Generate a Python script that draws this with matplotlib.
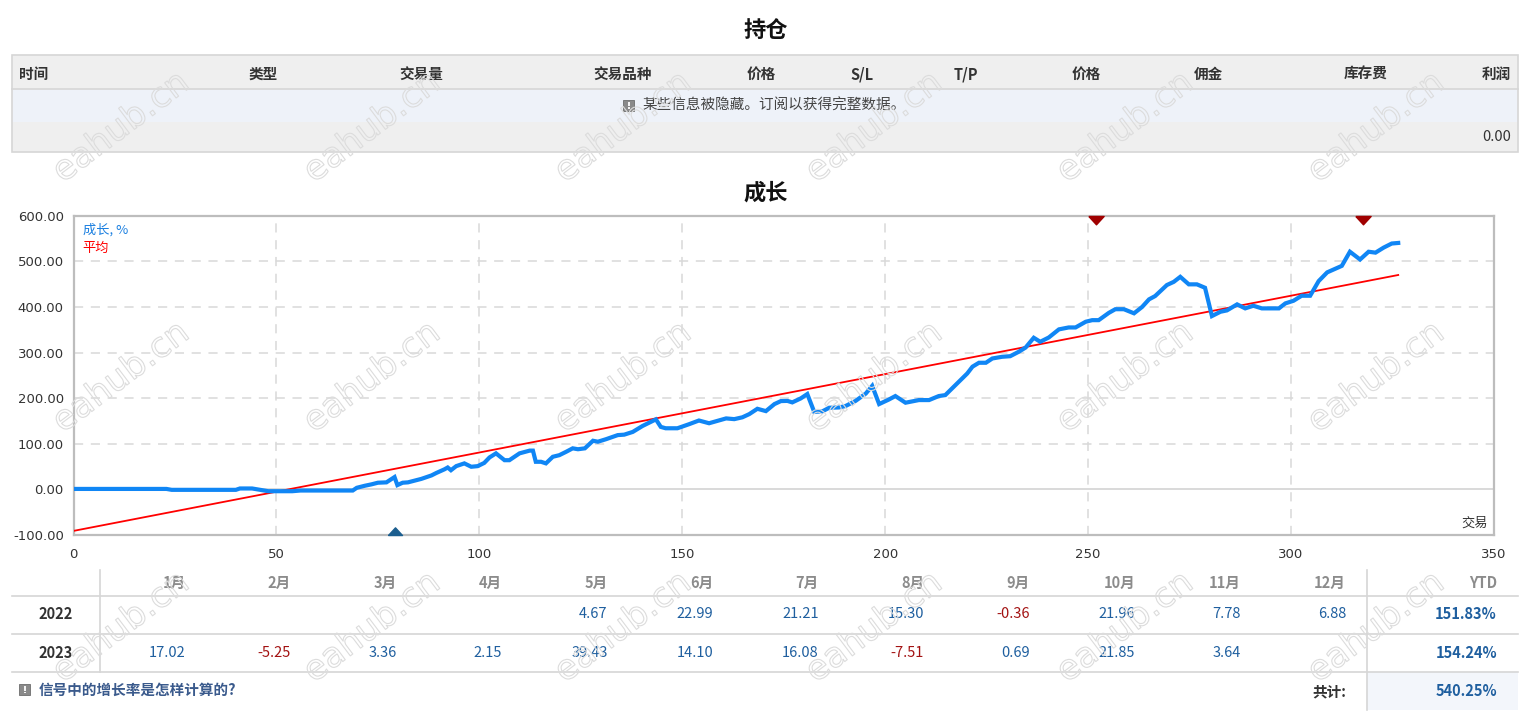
import matplotlib
matplotlib.use('Agg')
import matplotlib.pyplot as plt
from matplotlib.patches import Rectangle
import matplotlib.patheffects as pe

plt.rcParams['font.family'] = ['Noto Sans CJK SC', 'DejaVu Sans']

# ---------------- data ----------------
title_positions = "持仓"
title_growth = "成长"

pos_headers = ["时间", "类型", "交易量", "交易品种", "价格", "S/L", "T/P", "价格", "佣金", "库存费", "利润"]
hidden_msg = "某些信息被隐藏。订阅以获得完整数据。"
profit_total = "0.00"

trade_x = [0, 22.9, 24.2, 40.0, 41.0, 44.0, 46.0, 48.0, 53.9, 55.9, 68.8, 69.8, 71.8, 73.4, 75.0,
           77.1, 79.1, 79.8, 81.1, 82.4, 85.7, 88.2, 89.4, 91.4, 92.2, 93.0, 94.3, 96.3, 98.0,
           99.6, 101.2, 102.5, 104.1, 106.2, 107.4, 109.9, 112.4, 113.2, 113.9, 115.2, 116.4,
           118.1, 119.7, 121.4, 123.0, 124.3, 126.0, 128.0, 129.2, 131.2, 134.1, 135.7, 137.8,
           140.2, 141.8, 143.5, 144.7, 145.9, 148.8, 151.7, 154.1, 156.6, 160.8, 162.8, 164.8,
           166.5, 168.5, 170.6, 172.7, 174.3, 175.9, 177.1, 179.2, 180.8, 182.5, 184.5, 186.2,
           188.6, 190.2, 192.7, 195.2, 196.8, 198.5, 200.9, 202.5, 205.0, 208.3, 210.8, 213.2,
           214.8, 217.3, 220.2, 221.5, 223.1, 224.8, 226.4, 228.8, 230.8, 232.9, 234.6, 236.6,
           238.2, 240.3, 242.8, 245.2, 246.9, 249.4, 251.0, 252.6, 255.1, 256.7, 258.8, 261.3,
           263.3, 265.0, 266.5, 269.4, 271.1, 272.7, 274.8, 276.8, 278.8, 280.5, 282.6, 284.2,
           286.7, 288.7, 290.7, 292.8, 297.0, 298.6, 300.6, 302.6, 304.7, 306.8, 308.9, 312.5,
           314.5, 317.0, 319.1, 320.8, 322.8, 324.8, 326.4]
growth = [1, 1, -1, -1, 2, 2, -1, -4, -4, -2.5, -2.5, 3.5, 8, 11, 14.6,
          15.4, 27, 9.4, 14.6, 15.4, 23, 30.6, 36, 44, 48, 42, 51, 57, 49.6,
          51, 58, 70, 79, 64, 64, 79, 85, 85, 60.5, 60.5, 57,
          71.5, 75, 82.5, 90, 88, 90, 106.6, 104.5, 110, 119, 120, 126,
          139, 146, 153.5, 137, 134, 134, 143, 151, 145, 155.6, 154, 158,
          165, 176.7, 171.6, 187, 193.6, 194, 190.7, 199.5, 209, 170, 171, 179,
          179.6, 182.6, 194, 210, 227, 187, 197, 204.6, 190, 195.8, 195.8, 204.6,
          206.7, 228.7, 254, 269, 277.6, 277.6, 287, 290.7, 292, 301.7, 311, 332.4,
          323.6, 333, 350.8, 355, 355, 367.5, 371, 371, 387, 395, 395, 386,
          400, 416.6, 423.8, 448, 455, 466, 449.5, 449.5, 442, 380, 389.4, 392.4,
          405.6, 396.8, 402.6, 396.8, 396.8, 407.8, 413.5, 424.5, 424.5, 456.7, 475.8, 490,
          521, 504, 521, 519, 530, 539, 540.25]

avg_x = [0, 326.4]
avg_y = [-91, 470]

deposit_marks_x = [79.1]
drawdown_marks_x = [251.9, 317.7]

months = ["1月", "2月", "3月", "4月", "5月", "6月", "7月", "8月", "9月", "10月", "11月", "12月"]
years = ["2022", "2023"]
monthly = [
    [None, None, None, None, 4.67, 22.99, 21.21, 15.30, -0.36, 21.96, 7.78, 6.88],
    [17.02, -5.25, 3.36, 2.15, 39.43, 14.10, 16.08, -7.51, 0.69, 21.85, 3.64, None],
]
ytd = ["151.83%", "154.24%"]
total_label = "共计:"
total_value = "540.25%"
footer_text = "信号中的增长率是怎样计算的?"

# ---------------- figure ----------------
W, H = 1532, 721
fig = plt.figure(figsize=(W / 100, H / 100), dpi=100)
fig.patch.set_facecolor('white')

bg = fig.add_axes([0, 0, 1, 1], zorder=0)
bg.set_xlim(0, W)
bg.set_ylim(H, 0)
bg.axis('off')

DARK = '#333333'
BORDER = '#d6d6d6'
POS = '#1f5f9f'
NEG = '#a31212'

# titles
bg.text(766, 30, title_positions, ha='center', va='center', fontsize=16, fontweight='bold', color='#111111')
bg.text(766, 193, title_growth, ha='center', va='center', fontsize=16, fontweight='bold', color='#111111')

# positions table
bg.add_patch(Rectangle((11.5, 55), 1506.5, 34.3, facecolor='#efefef', edgecolor='none'))
bg.add_patch(Rectangle((11.5, 89.3), 1506.5, 32.4, facecolor='#eef2f9', edgecolor='none'))
bg.add_patch(Rectangle((11.5, 121.7), 1506.5, 30.6, facecolor='#efefef', edgecolor='none'))
bg.add_patch(Rectangle((11.5, 55), 1506.5, 97.3, facecolor='none', edgecolor=BORDER, lw=1.2))
bg.plot([11.5, 1518], [89.3, 89.3], color=BORDER, lw=1.2)

hdr_right = [None, 277.5, 443.6, 652, 776, 873.5, 978.5, 1100.6, 1222.8, 1388, 1511]
for i, lab in enumerate(pos_headers):
    if i == 0:
        bg.text(19, 74, lab, ha='left', va='center', fontsize=10.5, fontweight='bold', color=DARK)
    else:
        bg.text(hdr_right[i], 74, lab, ha='right', va='center', fontsize=10.5, fontweight='bold', color=DARK)


def info_icon(x, y):
    bg.add_patch(Rectangle((x, y), 11, 11, facecolor='#8a8a8a', edgecolor='#6d6d6d', lw=0.6))
    bg.plot([x + 5.5, x + 5.5], [y + 2.2, y + 6.8], color='white', lw=1.3, solid_capstyle='butt')
    bg.plot([x + 5.5, x + 5.5], [y + 7.8, y + 9.2], color='white', lw=1.3, solid_capstyle='butt')


info_icon(623, 99.5)
bg.text(642, 106, hidden_msg, ha='left', va='center', fontsize=10.5, color='#444444')
bg.text(1511, 137, profit_total, ha='right', va='center', fontsize=10.5, color=DARK)

# ---------------- growth chart ----------------
ax = fig.add_axes([73.5 / W, (H - 535) / H, (1494 - 73.5) / W, (535 - 215.7) / H], zorder=1)
ax.set_xlim(0, 350)
ax.set_ylim(-100, 600)
ax.set_facecolor('white')

for xv in range(50, 350, 50):
    ax.axvline(xv, color='#d9d9d9', lw=1.1, ls=(0, (6, 5)), zorder=1)
for yv in range(100, 600, 100):
    ax.axhline(yv, color='#d9d9d9', lw=1.1, ls=(0, (6, 5)), zorder=1)
ax.axhline(0, color='#d0d0d0', lw=1.1, zorder=1)

ax.plot(avg_x, avg_y, color='#ff0000', lw=1.3, zorder=3)
ax.plot(trade_x, growth, color='#1086f5', lw=3.0, solid_joinstyle='miter', zorder=4)

up_tri = [(-1.1, 0), (0, 1.2), (1.1, 0), (-1.1, 0)]
dn_tri = [(-1.1, 0), (0, -1.2), (1.1, 0), (-1.1, 0)]
ax.plot(deposit_marks_x, [-100] * len(deposit_marks_x), ls='none', marker=up_tri, ms=11,
        color='#1b5e8f', mec='#1b5e8f', clip_on=False, zorder=6)
ax.plot(drawdown_marks_x, [600] * len(drawdown_marks_x), ls='none', marker=dn_tri, ms=12,
        color='#a00000', mec='#a00000', clip_on=False, zorder=6)

for s in ax.spines.values():
    s.set_color('#bdbdbd')
    s.set_linewidth(1.6)

ax.set_xticks(range(0, 351, 50))
ax.set_yticks(range(-100, 601, 100))
ax.set_yticklabels([f"{v:.2f}" for v in range(-100, 601, 100)])
ax.tick_params(axis='both', length=0, labelsize=9.5, labelcolor=DARK)
ax.tick_params(axis='x', pad=9)
ax.tick_params(axis='y', pad=7)
for lab in ax.get_xticklabels() + ax.get_yticklabels():
    lab.set_family('DejaVu Sans')

ax.text(0.0065, 0.955, "成长, %", transform=ax.transAxes, ha='left', va='center', fontsize=9.5, color='#1a7fe0')
ax.text(0.0065, 0.897, "平均", transform=ax.transAxes, ha='left', va='center', fontsize=9.5, color='#ff0000')
ax.text(0.9955, 0.038, "交易", transform=ax.transAxes, ha='right', va='center', fontsize=9.5, color=DARK)

# ---------------- monthly table ----------------
for yl in [595.5, 633.5, 672.3]:
    bg.plot([11.5, 1518], [yl, yl], color=BORDER, lw=1.2)
bg.plot([100, 100], [570, 672.3], color=BORDER, lw=1.2)
bg.add_patch(Rectangle((1367, 672.3), 151, 37.7, facecolor='#f3f6fb', edgecolor='none'))
bg.plot([1367, 1367], [570, 710], color=BORDER, lw=1.2)

col_right = [185.6 + 105.5 * k for k in range(12)]
for k, m in enumerate(months):
    bg.text(col_right[k], 583, m, ha='right', va='center', fontsize=10.5, fontweight='bold', color='#8c8c8c')
bg.text(1497, 583, "YTD", ha='right', va='center', fontsize=10.5, fontweight='bold', color='#8c8c8c')

row_y = [614.3, 652.7]
for r, yr in enumerate(years):
    bg.text(55.5, row_y[r], yr, ha='center', va='center', fontsize=10.5, fontweight='bold', color=DARK)
    for k, v in enumerate(monthly[r]):
        if v is None:
            continue
        bg.text(col_right[k], row_y[r], f"{v:.2f}", ha='right', va='center', fontsize=10.5,
                color=(NEG if v < 0 else POS))
    bg.text(1497, row_y[r], ytd[r], ha='right', va='center', fontsize=10.5, fontweight='bold', color=POS)

bg.text(1346, 691, total_label, ha='right', va='center', fontsize=10.5, fontweight='bold', color=DARK)
bg.text(1497, 691, total_value, ha='right', va='center', fontsize=10.5, fontweight='bold', color=POS)

info_icon(19, 684)
bg.text(39, 690, footer_text, ha='left', va='center', fontsize=10.5, fontweight='bold', color='#3a5a8c')

# ---------------- watermark ----------------
ov = fig.add_axes([0, 0, 1, 1], zorder=10)
ov.set_xlim(0, W)
ov.set_ylim(H, 0)
ov.axis('off')
ov.patch.set_alpha(0)
for wy in [127, 377, 627]:
    for wx in [121, 372, 623, 874, 1125, 1376]:
        ov.text(wx, wy, "eahub.cn", ha='center', va='center', rotation=37, fontsize=25,
                family='DejaVu Sans', color=(1, 1, 1, 0),
                path_effects=[pe.Stroke(linewidth=0.8, foreground='#dcdcdc')])

fig.savefig('out.png', dpi=100, facecolor='white')
